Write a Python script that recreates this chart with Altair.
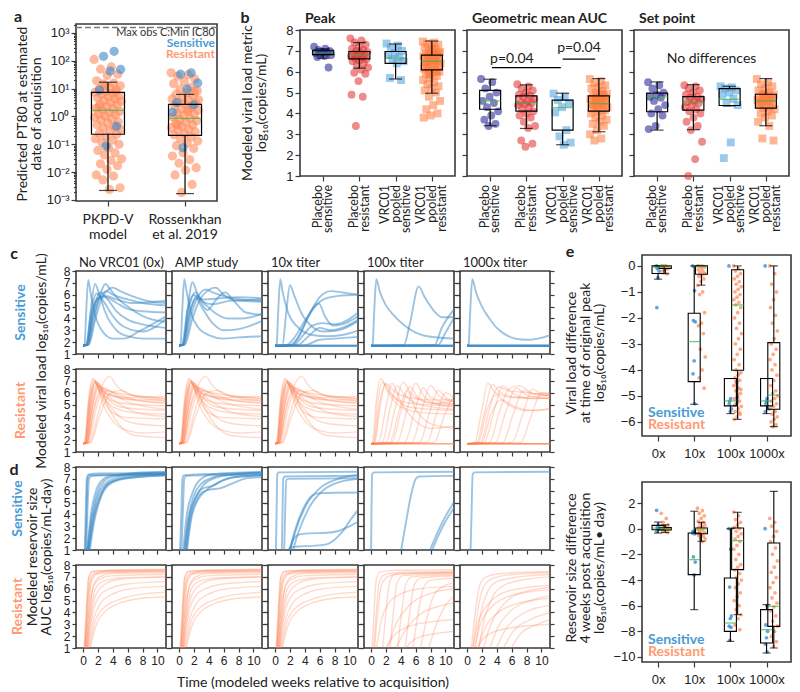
import altair as alt
import pandas as pd

# ======================= DATA =======================
# ---- panel a : predicted PT80 (log10 values)
A_LABELS = [["PKPD-V", "model"], ["Rossenkhan", "et al. 2019"]]
A_SENS_LOG10 = [
    [2.34, 2.16, 1.69, 1.63, 0.95, -0.35, -1.06],
    [1.57, 1.52, 1.2, 0.98, 0.5, 0.42, -1.12, 0.15],
]
A_RES_LOG10 = [
    [2.05, 1.78, 1.7, 1.52, 1.47, 1.28, 1.2, 1.17, 1.1, 1.04, 0.98, 0.95, 0.9, 0.87, 0.83, 0.8,
     0.74, 0.71, 0.66, 0.63, 0.57, 0.55, 0.5, 0.43, 0.41, 0.37, 0.3, 0.27, 0.22, 0.18, 0.15, 0.09,
     0.06, 0.02, -0.03, -0.08, -0.12, -0.19, -0.23, -0.3, -0.36, -0.41, -0.47, -0.52, -0.6, -0.64,
     -0.72, -0.8, -0.85, -0.93, -1.0, -1.13, -1.22, -1.31, -1.38, -1.52, -1.58, -1.7, -1.77, -1.9,
     -2.1, -2.14, -2.28, -2.56, -2.62, 0.34, 0.88, 1.12],
    [1.57, 1.5, 1.45, 1.35, 1.25, 1.18, 1.05, 0.98, 0.92, 0.85, 0.8, 0.74, 0.7, 0.63, 0.58, 0.52,
     0.47, 0.44, 0.38, 0.33, 0.27, 0.22, 0.18, 0.12, 0.08, 0.03, -0.02, -0.07, -0.1, -0.15, -0.2,
     -0.25, -0.31, -0.36, -0.4, -0.46, -0.5, -0.55, -0.62, -0.66, -0.73, -0.8, -0.88, -0.95, -1.05,
     -1.15, -1.3, -1.42, -1.55, -1.68, -1.84, -1.93, -2.1, -2.44, -2.73, 0.6, 0.25, -0.3, 0.9],
]
A_Q1 = [0.23, 0.21]
A_MED = [1.66, 0.85]
A_Q3 = [7.4, 2.7]
A_LO = [0.0022, 0.0017]
A_HI = [17.0, 6.2]
A_MAX_OBS = 1580

# ---- panel b : viral load metrics  (groups: placebo sens, placebo res, VRC01 sens, VRC01 res)
B_METRICS = ["Peak", "Geometric mean AUC", "Set point"]
B_LABELS = [["Placebo", "sensitive"], ["Placebo", "resistant"],
            ["VRC01", "pooled", "sensitive"], ["VRC01", "pooled", "resistant"]]
B_POINTS = {
    "Peak": [
        [7.2, 7.1, 7.05, 7.0, 6.95, 6.9, 6.9, 6.85, 6.8, 6.75, 6.7, 6.2],
        [7.6, 7.5, 7.4, 7.3, 7.2, 7.1, 7.05, 7.0, 6.95, 6.9, 6.85, 6.8, 6.8, 6.75, 6.7, 6.65, 6.6,
         6.55, 6.5, 6.4, 6.3, 6.2, 6.1, 5.95, 5.9, 5.55, 4.9, 4.8, 3.4],
        [7.35, 7.25, 7.15, 7.0, 6.9, 6.8, 6.7, 6.6, 6.5, 6.4, 5.7, 5.6],
        [7.45, 7.4, 7.35, 7.3, 7.2, 7.15, 7.1, 7.0, 6.95, 6.9, 6.85, 6.8, 6.8, 6.75, 6.7, 6.65, 6.6,
         6.55, 6.5, 6.5, 6.45, 6.4, 6.35, 6.3, 6.25, 6.2, 6.15, 6.1, 6.05, 6.0, 5.95, 5.9, 5.8, 5.7,
         5.6, 5.5, 5.4, 5.3, 5.2, 5.1, 5.0, 4.8, 4.6, 4.4, 4.2, 4.0, 3.9, 3.8, 6.6, 6.7, 6.9, 7.05,
         6.4, 6.0, 5.85],
    ],
    "Geometric mean AUC": [
        [5.65, 5.5, 5.2, 5.0, 4.8, 4.6, 4.5, 4.3, 4.1, 3.9, 3.7, 3.5, 3.4],
        [5.4, 5.3, 5.2, 5.1, 5.0, 4.9, 4.85, 4.8, 4.7, 4.6, 4.55, 4.5, 4.45, 4.4, 4.3, 4.2, 4.1, 4.0,
         3.9, 3.8, 3.6, 3.4, 3.3, 2.7, 2.55, 2.4],
        [4.95, 4.8, 4.65, 4.5, 4.3, 4.05, 3.2, 2.9, 2.6, 2.5],
        [5.65, 5.55, 5.45, 5.35, 5.25, 5.2, 5.1, 5.0, 4.95, 4.9, 4.85, 4.8, 4.75, 4.7, 4.65, 4.6,
         4.55, 4.5, 4.45, 4.4, 4.35, 4.3, 4.25, 4.2, 4.15, 4.1, 4.0, 3.9, 3.8, 3.7, 3.6, 3.5, 3.4,
         3.2, 3.0, 2.8, 2.7, 4.6, 4.5, 4.4, 4.9, 4.7],
    ],
    "Set point": [
        [5.5, 5.35, 5.2, 5.0, 4.9, 4.8, 4.75, 4.6, 4.4, 4.2, 4.0, 3.9, 3.4, 3.25],
        [5.35, 5.3, 5.2, 5.1, 5.0, 4.9, 4.8, 4.75, 4.7, 4.6, 4.55, 4.5, 4.4, 4.3, 4.2, 4.1, 4.0, 3.8,
         3.6, 3.4, 3.2, 2.64, 1.81, 1.0],
        [5.3, 5.25, 5.2, 5.1, 5.0, 4.9, 4.7, 4.5, 4.4, 2.61, 1.86],
        [5.65, 5.5, 5.4, 5.3, 5.2, 5.1, 5.0, 4.95, 4.9, 4.85, 4.8, 4.75, 4.7, 4.65, 4.6, 4.55, 4.5,
         4.45, 4.4, 4.3, 4.25, 4.2, 4.1, 4.0, 3.9, 3.8, 3.6, 3.4, 2.8, 2.7, 4.6, 4.5, 4.7, 4.9],
    ],
}
# box stats per group: (q1, median, q3, lower whisker, upper whisker)
B_STATS = {
    "Peak": [(6.82, 6.9, 7.03, 6.65, 7.1), (6.62, 6.8, 6.97, 6.17, 7.4),
             (6.4, 6.65, 6.97, 5.65, 7.33), (6.09, 6.5, 6.8, 4.97, 7.47)],
    "Geometric mean AUC": [(4.2, 4.6, 5.11, 3.41, 5.64), (4.11, 4.52, 4.84, 3.28, 5.37),
                           (3.2, 4.28, 4.64, 2.5, 4.97), (4.11, 4.47, 4.84, 3.12, 5.67)],
    "Set point": [(4.08, 4.79, 4.97, 3.2, 5.51), (4.16, 4.55, 4.81, 3.22, 5.38),
                  (4.38, 4.68, 5.19, 4.36, 5.3), (4.25, 4.6, 4.92, 3.41, 5.67)],
}
B_BRACKETS = {"x": [0.05, 2.0], "x2": [1.95, 2.9], "y": [6.2, 6.6]}
B_PTEXT = {"x": [0.6, 2.45], "y": [6.62, 7.15], "label": ["p=0.04", "p=0.04"]}
B_NODIFF = {"x": [1.5], "y": [6.6], "label": ["No differences"]}

# ---- panel e : differences by titer (0x, 10x, 100x, 1000x)
E_CATS = ["0x", "10x", "100x", "1000x"]
E1_SENS = [
    [0, -0.05, -0.1, -0.2, -0.45, -1.6],
    [0, -0.95, -2.1, -2.15, -3.65, -4.15, -5.3],
    [0, -5.1, -5.2, -5.5, -5.6, -5.3],
    [0, -5.1, -5.3, -5.5, -5.2, -5.6],
]
E1_RES = [
    [0, 0, -0.05, -0.1, -0.15, -0.2, -0.3, 0, -0.05, -0.1, -0.02],
    [0, 0, 0, -0.05, -0.1, -0.15, -0.2, -0.25, -0.3, -0.35, -0.4, -0.5, -0.6, -0.75, -1.0, -1.1,
     -1.8, -2.2, -2.3, -2.6, -3.2, -3.5, -4.0, -4.3, -4.7],
    [0, -0.1, -0.2, -0.3, -0.4, -0.5, -0.6, -0.7, -0.8, -0.9, -1.0, -1.1, -1.2, -1.3, -1.4, -1.5,
     -1.6, -1.8, -2.0, -2.2, -2.4, -2.6, -2.8, -3.0, -3.2, -3.4, -3.6, -3.8, -4.0, -4.1, -4.2, -4.3,
     -4.4, -4.5, -4.6, -4.7, -4.8, -4.9, -5.0, -5.1, -5.2, -5.3, -5.4, -5.5, -5.6, -5.7, -5.8, -5.9,
     -4.15, -4.45, -4.75, -5.05, -5.35, -5.65],
    [0, -0.3, -0.7, -1.0, -1.3, -1.6, -1.9, -2.2, -2.5, -2.8, -3.0, -3.2, -3.4, -3.6, -3.8, -4.0,
     -4.2, -4.4, -4.6, -4.8, -4.9, -5.0, -5.1, -5.2, -5.3, -5.4, -5.5, -5.6, -5.7, -5.8, -5.9, -6.0,
     -6.1, -6.18],
]
E1_SENS_STATS = [(-0.29, -0.05, 0.0, -0.51, 0.0), (-4.45, -2.91, -1.82, -5.32, 0.0),
                 (-5.38, -5.19, -4.33, -5.68, -4.33), (-5.38, -5.19, -4.33, -5.68, -4.33)]
E1_RES_STATS = [(-0.1, 0.0, 0.0, -0.3, 0.0), (-0.32, -0.02, 0.0, -0.74, 0.0),
                (-4.01, -1.5, -0.15, -5.9, 0.0), (-5.51, -4.97, -2.95, -6.18, 0.0)]
E2_SENS = [
    [1.43, 0.3, 0.1, 0.05, 0, -0.2],
    [-0.35, -0.4, -2.2, -2.6, -3.6, -0.2],
    [0, -1.6, -4.55, -6.8, -7.0, -7.6, -7.7, -8.7],
    [0, -6.0, -7.5, -8.0, -8.5, -9.0, -9.6],
]
E2_RES = [
    [1.2, 0.8, 0.5, 0.3, 0.2, 0.1, 0.05, 0, -0.05, -0.1, -0.2, -0.3],
    [1.6, 1.4, 1.2, 1.0, 0.8, 0.6, 0.5, 0.4, 0.3, 0.2, 0.1, 0.05, 0, -0.05, -0.1, -0.2, -0.3, -0.4,
     -0.5, -0.6, -0.7, -0.8, -1.0],
    [1.3, 1.0, 0.7, 0.5, 0.3, 0.1, 0, -0.2, -0.4, -0.6, -0.8, -1.0, -1.3, -1.6, -2.0, -2.4, -2.8,
     -3.0, -3.2, -3.5, -3.8, -4.0, -4.3, -4.6, -5.0, -5.3, -5.6, -6.0, -6.3, -6.7, -7.0, -7.5, -7.87],
    [0.8, 0.5, 0.2, -0.2, -0.6, -1.0, -1.5, -2.0, -2.5, -3.0, -3.4, -3.8, -4.2, -4.6, -5.0, -5.4,
     -5.8, -6.1, -6.4, -6.8, -7.2, -7.6, -8.0, -8.4, -8.8, -9.2],
]
E2_SENS_STATS = [(-0.08, 0.05, 0.26, -0.34, 0.52), (-3.58, -2.41, -0.34, -6.31, 1.36),
                 (-8.0, -7.35, -3.84, -8.78, 0.0), (-8.91, -7.87, -6.31, -9.69, -5.92)]
E2_RES_STATS = [(-0.1, 0.0, 0.08, -0.3, 0.3), (-0.39, 0.0, 0.05, -0.98, 0.5),
                (-3.19, -0.93, 0.05, -6.7, 1.28), (-7.61, -6.05, -1.11, -9.3, 2.91)]

# ---- panels c/d : modeled trajectories, each curve = list of (week, log10 value)
BASE = [(0, 1.7), (11.2, 1.7)]
C_SENS_0X = [
    [(0, 1.7), (0.2, 1.8), (0.45, 5.0), (0.7, 7.25), (1.0, 6.2), (1.6, 4.3), (2.5, 3.0), (4, 2.3), (5.5, 2.3), (7.5, 2.9), (11.2, 4.2)],
    [(0, 1.7), (0.5, 1.8), (1.0, 4.5), (1.6, 6.9), (2.2, 6.0), (3, 4.5), (4.5, 3.0), (6, 2.5), (8, 2.3), (11.2, 2.3)],
    [(0, 1.7), (0.7, 1.8), (1.5, 4.0), (2.3, 6.0), (3.0, 6.9), (3.6, 6.5), (4.5, 5.8), (6, 5.0), (8, 4.2), (11.2, 3.7)],
    [(0, 1.7), (0.8, 1.8), (1.6, 3.8), (2.6, 5.8), (4, 6.6), (5, 6.3), (6.5, 5.9), (8.5, 5.5), (11.2, 5.3)],
    [(0, 1.7), (0.6, 1.8), (1.4, 4.2), (2.4, 5.9), (3.2, 6.3), (4, 6.0), (6, 5.6), (8, 5.3), (11.2, 5.1)],
    [(0, 1.7), (0.6, 1.8), (1.3, 4.5), (2.2, 5.8), (3, 5.9), (4.5, 5.6), (6.5, 5.3), (11.2, 5.5)],
    [(0, 1.7), (0.5, 1.8), (1.2, 4.5), (2.0, 5.7), (3, 5.8), (4.5, 5.3), (6, 4.8), (8, 4.6), (11.2, 4.5)],
    [(0, 1.7), (0.5, 1.8), (1.3, 4.3), (2.3, 6.2), (3.3, 5.6), (4.5, 4.6), (6, 3.9), (8, 3.5), (11.2, 3.2)],
    [(0, 1.7), (0.4, 1.8), (1.1, 4.6), (1.8, 6.1), (2.8, 5.4), (4, 4.2), (5.5, 3.3), (8, 2.9), (11.2, 4.0)],
]
C_SENS_AMP = [
    [(0, 1.7), (0.2, 1.8), (0.45, 5.0), (0.7, 7.3), (1.0, 6.3), (1.6, 4.5), (2.5, 3.3), (4, 2.6), (6, 2.3), (8, 2.4), (11.2, 2.5)],
    [(0, 1.7), (0.6, 1.8), (1.1, 4.5), (1.8, 7.05), (2.4, 6.2), (3.2, 5.4), (4.5, 5.2), (7, 5.5), (11.2, 5.6)],
    [(0, 1.7), (0.7, 1.8), (1.6, 4.2), (2.6, 5.9), (3.6, 6.45), (4.5, 6.2), (6.5, 5.8), (8.5, 5.6), (11.2, 5.5)],
    [(0, 1.7), (0.8, 1.8), (1.8, 4.0), (3, 5.8), (4.9, 6.6), (6, 6.0), (7.5, 5.5), (11.2, 5.4)],
    [(0, 1.7), (0.5, 1.8), (1.2, 4.5), (2.2, 6.2), (3, 5.3), (3.8, 4.7), (5, 5.6), (6.2, 6.2), (7.2, 5.6), (9, 4.5), (11.2, 4.3)],
    [(0, 1.7), (0.6, 1.8), (1.4, 4.3), (2.4, 5.9), (3.5, 5.2), (5, 4.4), (6.5, 4.0), (8.5, 4.0), (11.2, 4.4)],
    [(0, 1.7), (0.4, 1.8), (1.1, 4.6), (2.0, 6.0), (3, 5.0), (4.5, 3.6), (6, 3.0), (8, 3.1), (11.2, 3.8)],
    [(0, 1.7), (0.5, 1.8), (1.3, 4.2), (2.4, 5.7), (3.5, 5.6), (5.5, 5.7), (8, 5.8), (11.2, 5.7)],
]
C_SENS_10X = [
    [(0, 1.7), (0.2, 1.8), (0.45, 5.0), (0.7, 7.3), (1.0, 6.3), (1.8, 4.4), (3, 3.3), (5, 2.6), (7, 2.5), (9, 2.6), (11.2, 3.0)],
    [(0, 1.7), (1.0, 1.75), (1.5, 4.5), (2.0, 6.8), (2.6, 5.9), (3.5, 4.5), (5, 3.3), (6.5, 2.9), (8.5, 3.0), (11.2, 3.8)],
    [(0, 1.7), (1.5, 1.75), (2.5, 2.3), (4, 3.8), (5.9, 5.25), (6.7, 4.2), (7.8, 3.4), (9, 3.5), (11.2, 4.2)],
    [(0, 1.7), (2, 1.75), (3, 2.3), (4.5, 4.2), (6, 5.8), (7.5, 6.3), (9, 6.2), (11.2, 6.0)],
    [(0, 1.7), (2.3, 1.75), (3.3, 2.6), (4.6, 4.3), (6.5, 5.6), (8.5, 5.9), (11.2, 6.0)],
    [(0, 1.7), (2.5, 1.75), (3.8, 2.6), (5, 3.4), (6.5, 3.6), (8, 3.5), (11.2, 4.5)],
    [(0, 1.7), (3, 1.75), (4.5, 2.5), (6, 3.2), (7.5, 3.0), (9, 3.2), (11.2, 3.9)],
    [(0, 1.7), (4, 1.75), (6, 2.2), (8, 2.3), (11.2, 2.45)],
    BASE, BASE, BASE,
]
C_SENS_100X = [
    [(0, 1.7), (0.2, 1.8), (0.45, 5.0), (0.7, 7.3), (1.2, 6.2), (2, 5.1), (3, 4.3), (4.5, 3.4), (6, 2.8), (8, 2.45), (11.2, 2.3)],
    [(0, 1.7), (4.4, 1.75), (5.2, 3.5), (6.4, 6.7), (7.2, 5.8), (8.5, 4.6), (9.5, 4.1), (11.2, 4.1)],
    [(0, 1.7), (8.5, 1.75), (9.5, 3.2), (11.2, 4.8)],
    [(0, 1.7), (9, 1.75), (10, 2.8), (11.2, 4.1)],
    BASE, BASE, BASE, BASE,
]
C_SENS_1000X = [
    [(0, 1.7), (0.2, 1.8), (0.45, 5.0), (0.7, 7.3), (1.2, 6.2), (2, 5.0), (3, 4.0), (4, 3.2), (5, 2.7), (6.5, 2.3), (8, 2.2), (9.5, 2.3), (11.2, 2.6)],
    BASE, BASE, BASE, BASE, BASE,
]
C_RES_EARLY = [
    [(0, 1.7), (0.3, 1.8), (0.9, 5.2), (1.5, 6.9), (2.5, 6.0), (4, 5.3), (7, 5.0), (11.2, 4.9)],
    [(0, 1.7), (0.4, 1.8), (1.0, 5.0), (1.7, 7.0), (2.8, 6.1), (4.5, 5.6), (8, 5.3), (11.2, 5.2)],
    [(0, 1.7), (0.2, 1.8), (0.7, 5.3), (1.3, 7.2), (2.3, 6.0), (4, 4.8), (7, 4.3), (11.2, 4.2)],
    [(0, 1.7), (0.5, 1.8), (1.2, 4.8), (2.0, 6.8), (3, 6.2), (5, 5.6), (8, 5.4), (11.2, 5.4)],
    [(0, 1.7), (0.6, 1.8), (1.5, 4.6), (2.5, 6.5), (3.5, 7.4), (4.5, 6.6), (6.5, 5.8), (11.2, 5.5)],
    [(0, 1.7), (0.3, 1.8), (0.9, 5.1), (1.6, 6.8), (2.6, 5.5), (4, 4.3), (6, 3.9), (11.2, 3.8)],
    [(0, 1.7), (0.5, 1.8), (1.2, 4.7), (2.0, 6.5), (3, 5.4), (4.5, 4.2), (7, 3.4), (11.2, 3.2)],
    [(0, 1.7), (0.7, 1.8), (1.7, 4.5), (2.8, 6.4), (4, 6.0), (6, 5.2), (11.2, 4.6)],
    [(0, 1.7), (0.4, 1.8), (1.0, 5.0), (1.7, 6.9), (2.7, 5.0), (4, 3.6), (6, 2.8), (8, 2.6), (11.2, 2.7)],
    [(0, 1.7), (0.9, 1.8), (2.0, 4.2), (3.3, 6.2), (4.5, 5.9), (7, 5.4), (11.2, 5.1)],
    [(0, 1.7), (0.3, 1.8), (0.8, 5.4), (1.4, 7.1), (2.4, 6.3), (3.5, 5.8), (6, 5.6), (11.2, 5.7)],
    [(0, 1.7), (1.0, 1.8), (2.2, 4.0), (3.6, 5.9), (5, 6.2), (7, 5.7), (11.2, 5.3)],
    [(0, 1.7), (0.6, 1.8), (1.4, 4.5), (2.3, 6.3), (3.5, 4.6), (5, 3.2), (7, 2.4), (11.2, 2.2)],
    [(0, 1.7), (0.4, 1.8), (1.1, 5.0), (1.9, 6.7), (3, 5.7), (5, 4.8), (8, 4.6), (11.2, 4.5)],
    [(0, 1.7), (0.5, 1.8), (1.3, 4.8), (2.2, 6.6), (3.2, 5.8), (5, 5.0), (8, 4.2), (11.2, 4.0)],
    [(0, 1.7), (0.2, 1.8), (0.8, 5.2), (1.5, 7.0), (2.5, 6.4), (4.5, 6.0), (8, 5.7), (11.2, 5.5)],
]
C_RES_100X = [
    [(0, 1.7), (0.3, 1.8), (0.9, 5.2), (1.5, 6.9), (2.5, 6.0), (4, 5.3), (7, 5.0), (11.2, 4.9)],
    [(0, 1.7), (0.2, 1.8), (0.7, 5.3), (1.3, 7.2), (2.3, 6.0), (4, 4.8), (7, 4.3), (11.2, 4.2)],
    [(0, 1.7), (0.5, 1.8), (1.2, 4.8), (2.0, 6.8), (3, 6.2), (5, 5.6), (8, 5.4), (11.2, 5.4)],
    [(0, 1.7), (0.4, 1.8), (1.1, 5.0), (1.9, 6.7), (3, 5.7), (5, 4.8), (8, 4.6), (11.2, 4.5)],
    [(0, 1.7), (1.5, 1.8), (2.5, 4.5), (3.5, 6.6), (4.5, 5.8), (6.5, 5.0), (11.2, 4.6)],
    [(0, 1.7), (2.0, 1.8), (3.2, 4.6), (4.3, 6.9), (5.3, 6.0), (7.5, 5.2), (11.2, 5.0)],
    [(0, 1.7), (2.8, 1.8), (4.0, 4.4), (5.2, 6.5), (6.3, 5.6), (8.5, 5.1), (11.2, 5.3)],
    [(0, 1.7), (3.5, 1.8), (4.8, 4.5), (6.0, 6.8), (7.0, 5.8), (9, 5.0), (11.2, 4.8)],
    [(0, 1.7), (4.5, 1.8), (5.8, 4.3), (7.0, 6.4), (8.0, 5.6), (11.2, 5.0)],
    [(0, 1.7), (5.5, 1.8), (6.8, 4.5), (8.0, 6.6), (9.2, 5.7), (11.2, 5.2)],
    [(0, 1.7), (6.5, 1.8), (7.8, 4.2), (9.0, 6.2), (10.2, 5.5), (11.2, 5.3)],
    [(0, 1.7), (7.5, 1.8), (8.8, 4.2), (10.0, 6.0), (11.2, 5.6)],
    [(0, 1.7), (8.5, 1.8), (9.8, 4.0), (11.2, 5.9)],
    [(0, 1.7), (1.0, 1.8), (2.0, 4.8), (2.8, 6.8), (4, 5.2), (6, 3.6), (8, 3.0), (11.2, 3.2)],
    [(0, 1.7), (2.5, 1.8), (3.7, 4.3), (4.8, 6.2), (6, 4.6), (8, 3.4), (11.2, 3.0)],
    BASE, BASE, BASE,
]
C_RES_1000X = [
    [(0, 1.7), (1.0, 1.8), (2.0, 4.6), (2.8, 6.8), (3.8, 6.0), (6, 5.6), (11.2, 5.5)],
    [(0, 1.7), (1.3, 1.8), (2.4, 4.5), (3.4, 6.7), (4.5, 6.0), (7, 5.6), (11.2, 5.8)],
    [(0, 1.7), (1.8, 1.8), (3.0, 4.6), (4.2, 6.5), (5.5, 6.2), (8, 6.0), (11.2, 5.7)],
    [(0, 1.7), (2.3, 1.8), (3.6, 4.4), (4.8, 6.6), (6, 6.0), (8.5, 5.5), (11.2, 5.6)],
    [(0, 1.7), (3.0, 1.8), (4.3, 4.3), (5.6, 6.3), (7, 6.6), (9, 5.9), (11.2, 5.8)],
    [(0, 1.7), (3.8, 1.8), (5.2, 4.4), (6.6, 6.4), (8, 5.8), (11.2, 5.5)],
    [(0, 1.7), (4.8, 1.8), (6.2, 4.2), (7.6, 6.2), (9, 5.9), (11.2, 6.0)],
    [(0, 1.7), (6.0, 1.8), (7.4, 4.0), (8.8, 6.3), (10, 5.9), (11.2, 5.8)],
    [(0, 1.7), (7.2, 1.8), (8.6, 4.0), (10, 6.0), (11.2, 5.9)],
    [(0, 1.7), (1.5, 1.8), (2.6, 4.4), (3.8, 5.8), (5.5, 5.0), (8, 4.5), (11.2, 4.6)],
    [(0, 1.7), (2.0, 1.8), (3.2, 4.2), (4.6, 5.4), (6.5, 4.8), (9, 4.5), (11.2, 4.7)],
    BASE, BASE, BASE, BASE, BASE,
]
D_SENS_0X = [
    [(0.2, 0.5), (0.35, 4), (0.5, 7.0), (0.7, 7.35), (2, 7.45), (11.2, 7.5)],
    [(0.3, 0.5), (0.45, 4), (0.6, 7.0), (0.9, 7.3), (3, 7.35), (11.2, 7.4)],
    [(0.4, 0.5), (0.6, 4.5), (0.8, 7.0), (1.2, 7.25), (4, 7.3), (11.2, 7.35)],
    [(0.6, 0.5), (1.2, 3.5), (2, 5.6), (3, 6.6), (4.5, 7.1), (7, 7.35), (11.2, 7.45)],
    [(0.6, 0.5), (1.3, 3.5), (2.2, 5.5), (3.2, 6.5), (5, 7.0), (8, 7.3), (11.2, 7.4)],
    [(0.5, 0.5), (1.1, 3.6), (1.9, 5.8), (2.8, 6.8), (4, 7.2), (7, 7.5), (11.2, 7.6)],
    [(0.7, 0.5), (1.4, 3.5), (2.4, 5.6), (3.4, 6.6), (5, 7.0), (8, 7.2), (11.2, 7.3)],
    [(0.5, 0.5), (1.0, 3.8), (1.7, 5.9), (2.6, 6.9), (4, 7.3), (11.2, 7.55)],
    [(0.8, 0.5), (1.5, 3.4), (2.5, 5.6), (3.5, 6.5), (5.5, 7.0), (11.2, 7.3)],
]
D_SENS_AMP = [
    [(0.1, 0.5), (0.3, 4), (0.45, 7.0), (0.65, 7.3), (3, 7.4), (11.2, 7.45)],
    [(0.3, 0.5), (0.5, 4), (0.7, 7.0), (1.0, 7.25), (4, 7.3), (11.2, 7.35)],
    [(0.9, 0.5), (1.5, 3.5), (2.2, 5.0), (3.2, 5.9), (4.2, 6.1), (5.5, 6.2), (7.5, 6.7), (9, 7.05), (11.2, 7.15)],
    [(0.7, 0.5), (1.3, 3.6), (2.2, 5.4), (3.2, 6.2), (4.5, 6.4), (6, 6.9), (8, 7.2), (11.2, 7.3)],
    [(0.6, 0.5), (1.2, 3.6), (2.0, 5.6), (3.0, 6.6), (4.5, 7.1), (7, 7.4), (11.2, 7.5)],
    [(0.8, 0.5), (1.4, 3.6), (2.3, 5.5), (3.3, 6.5), (5, 7.1), (8, 7.4), (11.2, 7.55)],
    [(0.5, 0.5), (1.0, 3.8), (1.8, 5.8), (2.8, 6.9), (4.5, 7.4), (11.2, 7.6)],
    [(1.0, 0.5), (1.6, 3.5), (2.6, 5.3), (3.6, 6.0), (5.0, 6.6), (7, 7.1), (11.2, 7.3)],
]
D_SENS_10X = [
    [(0.1, 0.5), (0.2, 4), (0.3, 7.4), (0.5, 7.55), (11.2, 7.6)],
    [(0.9, 0.5), (1.0, 4), (1.1, 7.0), (1.3, 7.2), (11.2, 7.25)],
    [(1.2, 0.5), (1.35, 4), (1.5, 6.9), (1.8, 7.0), (11.2, 7.05)],
    [(1.8, 0.5), (2.6, 2.5), (3.8, 4.5), (5.0, 5.6), (6.0, 5.8), (11.2, 5.85)],
    [(1.8, 0.5), (2.8, 2.7), (4.2, 4.8), (6, 6.2), (8, 6.9), (11.2, 7.35)],
    [(2.2, 0.5), (3.2, 2.6), (4.6, 4.6), (6.4, 6.0), (8.5, 6.7), (11.2, 7.0)],
    [(1.7, 0.5), (2.4, 1.8), (3.2, 2.3), (4.5, 2.4), (7, 2.45), (8.5, 2.6), (10, 3.0), (11.2, 3.4)],
    [(1.5, 0.5), (2.0, 1.2), (3, 1.3), (5, 1.35), (7, 1.5), (9, 2.5), (10.2, 3.6), (11.2, 4.4)],
]
D_SENS_100X = [
    [(0.0, 0.5), (0.05, 4), (0.15, 7.4), (0.4, 7.55), (11.2, 7.6)],
    [(3.9, 0.5), (4.6, 3.0), (5.4, 5.7), (6.0, 7.0), (6.5, 7.2), (11.2, 7.25)],
    [(7.6, 0.5), (8.6, 2.0), (9.8, 3.6), (11.2, 5.1)],
    [(7.9, 0.5), (8.9, 2.0), (10.0, 3.4), (11.2, 4.6)],
]
D_SENS_1000X = [
    [(0.45, 0.5), (0.6, 4), (0.75, 7.4), (1.0, 7.55), (11.2, 7.6)],
]
D_RES_EARLY = [
    [(0.1, 0.5), (0.4, 4), (0.7, 6.8), (1.2, 7.4), (3, 7.55), (11.2, 7.6)],
    [(0.2, 0.5), (0.5, 4), (0.9, 6.7), (1.5, 7.3), (3.5, 7.45), (11.2, 7.5)],
    [(0.3, 0.5), (0.7, 4), (1.1, 6.5), (1.8, 7.2), (4, 7.4), (11.2, 7.45)],
    [(0.2, 0.5), (0.6, 4), (1.0, 6.6), (1.6, 7.25), (3.5, 7.5), (11.2, 7.55)],
    [(0.4, 0.5), (0.9, 4), (1.4, 6.3), (2.2, 7.0), (4, 7.3), (11.2, 7.35)],
    [(0.3, 0.5), (0.8, 4), (1.3, 6.0), (2.2, 6.8), (4, 7.1), (11.2, 7.2)],
    [(0.5, 0.5), (1.1, 3.8), (1.8, 5.6), (3, 6.4), (5, 6.8), (11.2, 7.0)],
    [(0.5, 0.5), (1.2, 3.6), (2.0, 5.2), (3.2, 5.9), (6, 6.4), (11.2, 6.6)],
    [(0.6, 0.5), (1.4, 3.4), (2.4, 4.8), (3.8, 5.5), (6.5, 6.0), (11.2, 6.2)],
    [(0.7, 0.5), (1.6, 3.2), (2.8, 4.4), (4.5, 5.0), (7.5, 5.5), (11.2, 5.7)],
    [(0.8, 0.5), (1.8, 3.0), (3.2, 4.2), (5, 4.8), (8, 5.2), (11.2, 5.3)],
    [(0.4, 0.5), (1.0, 3.9), (1.6, 5.9), (2.6, 6.6), (5, 6.9), (11.2, 7.0)],
    [(0.2, 0.5), (0.5, 4), (0.8, 7.0), (1.3, 7.5), (11.2, 7.65)],
]
D_RES_100X = [
    [(0.1, 0.5), (0.4, 4), (0.7, 6.8), (1.2, 7.4), (3, 7.55), (11.2, 7.6)],
    [(0.3, 0.5), (0.7, 4), (1.1, 6.5), (1.8, 7.2), (4, 7.4), (11.2, 7.45)],
    [(0.4, 0.5), (0.9, 4), (1.4, 6.3), (2.2, 7.0), (4, 7.3), (11.2, 7.35)],
    [(0.6, 0.5), (1.4, 3.4), (2.4, 4.8), (3.8, 5.5), (6.5, 6.0), (11.2, 6.2)],
    [(1.5, 0.5), (2.0, 4), (2.5, 6.6), (3.2, 7.2), (11.2, 7.4)],
    [(2.5, 0.5), (3.0, 4), (3.5, 6.5), (4.3, 7.1), (11.2, 7.3)],
    [(3.5, 0.5), (4.1, 4), (4.7, 6.4), (5.5, 7.0), (11.2, 7.2)],
    [(4.5, 0.5), (5.2, 4), (5.8, 6.3), (6.7, 6.9), (11.2, 7.1)],
    [(2.0, 0.5), (3.2, 2.8), (5, 4.5), (8, 5.6), (11.2, 6.0)],
    [(3.0, 0.5), (4.5, 2.4), (6.5, 3.8), (9, 4.5), (11.2, 4.8)],
    [(5.5, 0.5), (6.3, 3.8), (7.0, 6.0), (8, 6.7), (11.2, 6.9)],
    [(6.5, 0.5), (7.5, 3.5), (8.5, 5.5), (10, 6.3), (11.2, 6.5)],
    [(7.5, 0.5), (8.8, 3.0), (10, 4.6), (11.2, 5.4)],
    [(1.5, 0.5), (3, 2.0), (5, 2.8), (8, 3.2), (11.2, 3.4)],
    [(4.0, 0.5), (6, 1.8), (8.5, 2.2), (11.2, 2.4)],
]
D_RES_1000X = [
    [(0.5, 0.5), (1.1, 4), (1.7, 6.3), (2.6, 7.0), (5, 7.3), (11.2, 7.45)],
    [(0.7, 0.5), (1.4, 4), (2.1, 6.0), (3.2, 6.8), (6, 7.2), (11.2, 7.35)],
    [(1.0, 0.5), (1.8, 3.8), (2.8, 5.8), (4, 6.6), (7, 7.0), (11.2, 7.2)],
    [(1.4, 0.5), (2.4, 3.6), (3.6, 5.5), (5, 6.3), (8, 6.8), (11.2, 7.0)],
    [(0.8, 0.5), (1.8, 3.0), (3.2, 4.4), (5, 5.2), (8, 5.7), (11.2, 5.9)],
    [(1.2, 0.5), (2.5, 2.8), (4.2, 4.0), (6.5, 4.7), (11.2, 5.2)],
    [(2.0, 0.5), (3.2, 3.0), (4.8, 4.6), (7, 5.6), (11.2, 6.1)],
    [(2.8, 0.5), (4.2, 2.8), (6, 4.2), (8.5, 5.0), (11.2, 5.4)],
    [(3.6, 0.5), (5.2, 2.6), (7.2, 3.8), (11.2, 4.6)],
    [(1.0, 0.5), (2.5, 2.0), (5, 2.6), (11.2, 3.0)],
    [(4.5, 0.5), (6.2, 2.4), (8.5, 3.4), (11.2, 4.0)],
    [(5.5, 0.5), (7.2, 2.2), (9.5, 3.0), (11.2, 3.4)],
    [(0.6, 0.5), (1.5, 3.2), (3, 4.8), (5.5, 5.8), (11.2, 6.3)],
]
COL_TITLES = ["No VRC01 (0x)", "AMP study", "10x titer", "100x titer", "1000x titer"]
GRID = [
    [C_SENS_0X, C_SENS_AMP, C_SENS_10X, C_SENS_100X, C_SENS_1000X],
    [C_RES_EARLY, C_RES_EARLY, C_RES_EARLY, C_RES_100X, C_RES_1000X],
    [D_SENS_0X, D_SENS_AMP, D_SENS_10X, D_SENS_100X, D_SENS_1000X],
    [D_RES_EARLY, D_RES_EARLY, D_RES_EARLY, D_RES_100X, D_RES_1000X],
]
GRID_KIND = ["s", "r", "s", "r"]

# ======================= STYLE =======================
LFONT = "Liberation Sans"
TFONT = "Lato"
TXT = "#222222"
FRAME = "#3a3a3a"
GREEN = "#3cb44b"
SENS_LINE = "#3a8ac6"
RES_LINE = "#ff7a48"
SENS_LBL = "#4a9bd5"
RES_LBL = "#ff9a72"
A_BLUE = "#3a86c6"
A_ORANGE = "#ff8a5b"
B_COLORS = ["#1c1c8f", "#e02b2b", "#4b9fdb", "#ff7a3d"]
B_SHAPES = ["circle", "circle", "square", "square"]
NOFRAME = alt.ViewBackground(stroke="transparent")


def ann(text, x, y, size=12, color=TXT, weight="normal", align="left",
        baseline="middle", angle=0, font=TFONT):
    return alt.Chart(pd.DataFrame({"k": [0]})).mark_text(
        text=text, align=align, baseline=baseline, fontSize=size, color=color,
        fontWeight=weight, angle=angle, font=font
    ).encode(x=alt.value(x), y=alt.value(y))


def vtitle(text, x, y, size=14):
    return ann(text, x, y, size=size, align="center", angle=270)


def strip(width, texts):
    return alt.layer(*texts).properties(width=width, height=1, view=NOFRAME)


def box_layers(df, xexpr, xs, ys, xax, yax, wpx, cappx, lw=1.2):
    base = alt.Chart(df).transform_calculate(xb=xexpr)
    X = alt.X("xb:Q", scale=xs, axis=xax)

    def Y(f):
        return alt.Y(f"{f}:Q", scale=ys, axis=yax)
    box = base.mark_bar(size=wpx, fillOpacity=0, stroke="black", strokeWidth=lw,
                        orient="vertical").encode(x=X, y=Y("q1"), y2=alt.Y2("q3"))
    wl = base.mark_rule(color="black", strokeWidth=lw).encode(x=X, y=Y("lo"), y2=alt.Y2("q1"))
    wh = base.mark_rule(color="black", strokeWidth=lw).encode(x=X, y=Y("q3"), y2=alt.Y2("hi"))
    cl = base.mark_tick(orient="horizontal", size=cappx, thickness=lw, color="black").encode(x=X, y=Y("lo"))
    ch = base.mark_tick(orient="horizontal", size=cappx, thickness=lw, color="black").encode(x=X, y=Y("hi"))
    md = base.mark_tick(orient="horizontal", size=wpx, thickness=1.3, color=GREEN).encode(x=X, y=Y("med"))
    return [box, wl, wh, cl, ch, md]


# ======================= PANEL a =======================
A_W, A_H = 141, 177
a_box = pd.DataFrame({"g": [0, 1], "q1": A_Q1, "med": A_MED, "q3": A_Q3, "lo": A_LO, "hi": A_HI})
AXS = alt.Scale(domain=[-0.35, 1.35], nice=False, zero=False)
AYS = alt.Scale(type="log", domain=[0.00092, 2100], nice=False)
A_XAXIS = alt.Axis(values=[0, 1], title=None, labels=False, tickSize=5)
A_YAXIS = alt.Axis(values=[0.001, 0.01, 0.1, 1, 10, 100, 1000], tickSize=5, labelFontSize=13,
                   labelOverlap=False, title=None,
                   labelExpr="['10⁻³','10⁻²','10⁻¹','10⁰','10¹','10²','10³'][round(log(datum.value)/LN10)+3]")
MINOR = [m * 10.0 ** e for e in range(-3, 4) for m in range(2, 10) if m * 10.0 ** e < 2100]

a_layers = []
for k, (lists, col) in enumerate(((A_RES_LOG10, A_ORANGE), (A_SENS_LOG10, A_BLUE))):
    rows = []
    for g in range(2):
        for j, v in enumerate(lists[g]):
            rows.append({"g": g, "val": 10 ** v, "i": j + 40 * k})
    a_layers.append(alt.Chart(pd.DataFrame(rows)).transform_calculate(
        xj="datum.g + ((datum.i * 0.6180339887) % 1 - 0.5) * 0.36"
    ).mark_circle(size=85, opacity=0.6, color=col).encode(
        x=alt.X("xj:Q", scale=AXS, axis=A_XAXIS),
        y=alt.Y("val:Q", scale=AYS, axis=A_YAXIS if k == 0 else None)))
a_minor = alt.Chart(a_box).mark_point(opacity=0).encode(
    x=alt.X("g:Q", scale=AXS, axis=A_XAXIS),
    y=alt.Y("med:Q", scale=AYS, axis=alt.Axis(values=MINOR, labels=False, tickSize=2.5, title=None, orient="left")),
)
a_dash = alt.Chart(pd.DataFrame({"y": [A_MAX_OBS]})).mark_rule(strokeDash=[6, 3], color="#7a7a7a", strokeWidth=1.6).encode(
    y=alt.Y("y:Q", scale=AYS, axis=None))
a_lab = []
for li, yy in ((0, A_H + 12), (1, A_H + 27)):
    a_lab.append(alt.Chart(pd.DataFrame({"g": [0, 1], "t": [A_LABELS[0][li], A_LABELS[1][li]]})).mark_text(
        baseline="top", fontSize=14, font=TFONT, color=TXT).encode(
        x=alt.X("g:Q", scale=AXS, axis=A_XAXIS), y=alt.value(yy), text="t:N"))
a_chart = alt.layer(
    *a_layers, a_minor, a_dash, *box_layers(a_box, "datum.g", AXS, AYS, A_XAXIS, None, 33, 18), *a_lab,
    ann("Max obs C:Min IC80", A_W - 2, 9, size=11, color="#333333", align="right"),
    ann("Sensitive", A_W - 2, 19, size=12, color=SENS_LBL, weight="bold", align="right"),
    ann("Resistant", A_W - 2, 30, size=12, color=RES_LBL, weight="bold", align="right"),
    ann("a", -58, -2, size=16, weight="bold", align="center", baseline="alphabetic"),
    vtitle("Predicted PT80 at estimated", -53, 90),
    vtitle("date of acquisition", -39, 90),
).resolve_axis(y="independent").properties(width=A_W, height=A_H)

# ======================= PANEL b =======================
B_W, B_H = 155, 146
BXS = alt.Scale(domain=[-0.5, 3.5], nice=False, zero=False)
BYS = alt.Scale(domain=[1, 8], nice=False, zero=False)
B_XAXIS = alt.Axis(values=[0, 1, 2, 3], title=None, labels=False, tickSize=5)
b_lab_rows = []
for gi, lines in enumerate(B_LABELS):
    for li, t in enumerate(lines):
        b_lab_rows.append({"pos": gi, "li": li, "n": len(lines), "t": t})
B_LAB_DF = pd.DataFrame(b_lab_rows)


def b_panel(k, metric):
    st = B_STATS[metric]
    bdf = pd.DataFrame({"g": [0, 1, 2, 3], "q1": [s[0] for s in st], "med": [s[1] for s in st],
                        "q3": [s[2] for s in st], "lo": [s[3] for s in st], "hi": [s[4] for s in st]})
    YAX = alt.Axis(values=list(range(1, 9)), tickSize=5, labelFontSize=13, labels=(k == 0),
                   labelOverlap=False, title=None)
    layers = []
    for gi, vals in enumerate(B_POINTS[metric]):
        df = pd.DataFrame({"grp": [gi] * len(vals), "val": vals, "i": list(range(len(vals)))})
        layers.append(alt.Chart(df).transform_calculate(
            xj="datum.grp + ((datum.i * 0.6180339887) % 1 - 0.5) * 0.5"
        ).mark_point(filled=True, size=62, opacity=0.55, color=B_COLORS[gi], shape=B_SHAPES[gi]).encode(
            x=alt.X("xj:Q", scale=BXS, axis=B_XAXIS),
            y=alt.Y("val:Q", scale=BYS, axis=YAX)))
    layers += box_layers(bdf, "datum.g", BXS, BYS, B_XAXIS, YAX, 21, 13)
    if metric == "Geometric mean AUC":
        layers.append(alt.Chart(pd.DataFrame(B_BRACKETS)).mark_rule(color="black", strokeWidth=1.3).encode(
            x=alt.X("x:Q", scale=BXS, axis=B_XAXIS), x2="x2:Q", y=alt.Y("y:Q", scale=BYS, axis=YAX)))
        layers.append(alt.Chart(pd.DataFrame(B_PTEXT)).mark_text(fontSize=14, font=TFONT, color=TXT).encode(
            x=alt.X("x:Q", scale=BXS, axis=B_XAXIS), y=alt.Y("y:Q", scale=BYS, axis=YAX), text="label:N"))
    if metric == "Set point":
        layers.append(alt.Chart(pd.DataFrame(B_NODIFF)).mark_text(fontSize=14, font=TFONT, color=TXT).encode(
            x=alt.X("x:Q", scale=BXS, axis=B_XAXIS), y=alt.Y("y:Q", scale=BYS, axis=YAX), text="label:N"))
    layers.append(alt.Chart(B_LAB_DF).transform_calculate(
        xl="datum.pos + (datum.li - (datum.n - 1) / 2) * 0.29"
    ).mark_text(angle=270, align="right", baseline="middle", fontSize=12.5, font=TFONT, color=TXT).encode(
        x=alt.X("xl:Q", scale=BXS, axis=B_XAXIS), y=alt.value(B_H + 9), text="t:N"))
    if k == 0:
        layers.append(vtitle("Modeled  viral load metric", -52, 73))
        layers.append(vtitle("log₁₀(copies/mL)", -38, 73))
    return alt.layer(*layers).properties(width=B_W, height=B_H)


b_strips = []
for k, m in enumerate(B_METRICS):
    texts = [ann(m, 5, -1, size=14, weight="bold", baseline="alphabetic")]
    if k == 0:
        texts.append(ann("b", -55, -1, size=16, weight="bold", align="center", baseline="alphabetic"))
    b_strips.append(strip(B_W, texts))
b_grid = alt.concat(*b_strips, *[b_panel(k, m) for k, m in enumerate(B_METRICS)], columns=3,
                    spacing=alt.RowColnumber(row=5, column=12), bounds="flush")

# ======================= PANELS c / d =======================
XT = alt.Scale(domain=[-0.95, 11.15], nice=False, zero=False)
YT = alt.Scale(domain=[1, 8], nice=False, zero=False)


def curves_df(curves):
    rows = []
    for cid, pts in enumerate(curves):
        for t, v in pts:
            rows.append({"cid": cid, "t": t, "v": v})
    return pd.DataFrame(rows)


def traj_panel(curves, kind, r, c):
    df = curves_df(curves)
    color = SENS_LINE if kind == "s" else RES_LINE
    op = 0.5 if kind == "s" else 0.28
    sw = 1.9 if kind == "s" else 1.4
    xax = dict(values=[0, 2, 4, 6, 8, 10], tickSize=4, labels=(r == 3), labelFontSize=12, labelPadding=3,
               labelFlush=False, labelOverlap=False, title=None)
    yax = dict(values=list(range(1, 9)), tickSize=4, labels=(c == 0), labelFontSize=12, labelPadding=2,
               labelOverlap=False, title=None)
    X = alt.X("t:Q", scale=XT, axis=alt.Axis(**xax))
    lines = alt.Chart(df).mark_line(color=color, opacity=op, strokeWidth=sw, clip=True,
                                    interpolate="monotone").encode(
        x=X, y=alt.Y("v:Q", scale=YT, axis=alt.Axis(**yax)), detail="cid:N")
    right = alt.Chart(df).mark_line(opacity=0, clip=True).encode(
        x=X, y=alt.Y("v:Q", scale=YT, axis=alt.Axis(orient="right", values=list(range(1, 9)), labels=False,
                                                     tickSize=4, title=None)), detail="cid:N")
    layers = [lines, right]
    if r == 3 and c == 2:
        layers.append(ann("Time (modeled weeks relative to acquisition)", 45, 118, size=14, align="center"))
    if c == 0:
        lx = -55 if r < 2 else -58
        layers.append(ann("Sensitive" if kind == "s" else "Resistant", lx, 41.5, size=14, weight="bold",
                          color=SENS_LBL if kind == "s" else RES_LBL, align="center", angle=270))
        if r == 1:
            layers.append(vtitle("Modeled  viral load log₁₀(copies/mL)", -34, -8))
        if r == 2:
            layers.append(ann("d", -62, 8, size=16, weight="bold", align="center", baseline="alphabetic"))
        if r == 3:
            layers.append(vtitle("Modeled  reservoir size", -43, -8))
            layers.append(vtitle("AUC log₁₀(copies/mL-day)", -29, -8))
    return alt.layer(*layers).resolve_axis(y="independent").properties(width=90, height=83)


cd_cells = []
for c in range(5):
    texts = [ann(COL_TITLES[c], 3, 12, size=13, baseline="alphabetic")]
    if c == 0:
        texts.append(ann("c", -62, 4, size=16, weight="bold", align="center", baseline="alphabetic"))
    cd_cells.append(strip(90, texts))
for r in range(4):
    for c in range(5):
        cd_cells.append(traj_panel(GRID[r][c], GRID_KIND[r], r, c))
cd_grid = alt.concat(*cd_cells, columns=5, spacing=alt.RowColnumber(row=15, column=6), bounds="flush")

# ======================= PANEL e =======================
E_W = 149
EXS = alt.Scale(domain=[-0.305, 3.537], nice=False, zero=False)


def e_panel(sens, res, sst, rst, ydom, yvals, tlines, tcy, letter):
    YS = alt.Scale(domain=ydom, nice=False, zero=False)
    xax = alt.Axis(values=[0, 1, 2, 3], title=None, labelExpr="['0x','10x','100x','1000x'][datum.value]",
                   tickSize=5, labelFontSize=13, labelPadding=6, labelFlush=False, labelOverlap=False)
    yax = alt.Axis(values=yvals, tickSize=5, labelFontSize=13, title=None, labelOverlap=False)
    layers = []
    for kind, lists, col, expr in (
        ("R", res, "#ff9466", "datum.pos + 0.2 + ((datum.i * 0.6180339887) % 1 - 0.5) * 0.22"),
        ("S", sens, "#3d8fd1", "datum.pos + ((datum.i * 0.6180339887) % 1 - 0.5) * 0.08"),
    ):
        rows = []
        for p in range(4):
            for j, v in enumerate(lists[p]):
                rows.append({"pos": p, "val": v, "i": j})
        layers.append(alt.Chart(pd.DataFrame(rows)).transform_calculate(xj=expr).mark_circle(
            size=14, opacity=0.8, color=col).encode(
            x=alt.X("xj:Q", scale=EXS, axis=xax), y=alt.Y("val:Q", scale=YS, axis=yax)))
    brow = []
    for p in range(4):
        for kd, st in (("S", sst[p]), ("R", rst[p])):
            brow.append({"pos": p, "kind": kd, "q1": st[0], "med": st[1], "q3": st[2], "lo": st[3], "hi": st[4]})
    bdf = pd.DataFrame(brow)
    layers += box_layers(bdf, "datum.kind == 'S' ? datum.pos : datum.pos + 0.2", EXS, YS, xax, yax, 12, 8, lw=1.1)
    layers.append(ann("Sensitive", 6, 158, size=14, weight="bold", color=SENS_LBL))
    layers.append(ann("Resistant", 6, 170, size=14, weight="bold", color=RES_LBL))
    for tx, tl in zip((-70, -56, -42), tlines):
        layers.append(vtitle(tl, tx, tcy))
    if letter:
        layers.append(ann("e", -72, 2, size=16, weight="bold", align="center", baseline="alphabetic"))
    return alt.layer(*layers)


e1 = e_panel(E1_SENS, E1_RES, E1_SENS_STATS, E1_RES_STATS, [-6.54, 0.42], [0, -1, -2, -3, -4, -5, -6],
             ["Viral load difference", "at time of original peak", "log₁₀(copies/mL)"], 98, True
             ).properties(width=E_W, height=181)
e2 = e_panel(E2_SENS, E2_RES, E2_SENS_STATS, E2_RES_STATS, [-10.39, 3.64], [2, 0, -2, -4, -6, -8, -10],
             ["Reservoir size difference", "4 weeks post acquisition", "log₁₀(copies/mL• day)"], 86, False
             ).properties(width=E_W, height=180)
e_block = alt.vconcat(e1, e2, spacing=20)

# ======================= ASSEMBLY =======================
top_row = alt.hconcat(a_chart, b_grid, spacing=16)
bottom_row = alt.hconcat(cd_grid, e_block, spacing=8)
chart = alt.vconcat(top_row, bottom_row, spacing=0).properties(
    padding={"left": 0, "top": 0, "right": 0, "bottom": 0}, background="white"
).configure_view(stroke=FRAME, strokeWidth=1.6).configure_axis(
    domain=False, grid=False, tickColor=FRAME, tickWidth=1.2, labelColor=TXT, labelFont=LFONT,
    titleFont=TFONT, titleFontWeight="normal", titleColor=TXT
)

chart.save("out.html", embed_options={"renderer": "svg", "actions": False})
